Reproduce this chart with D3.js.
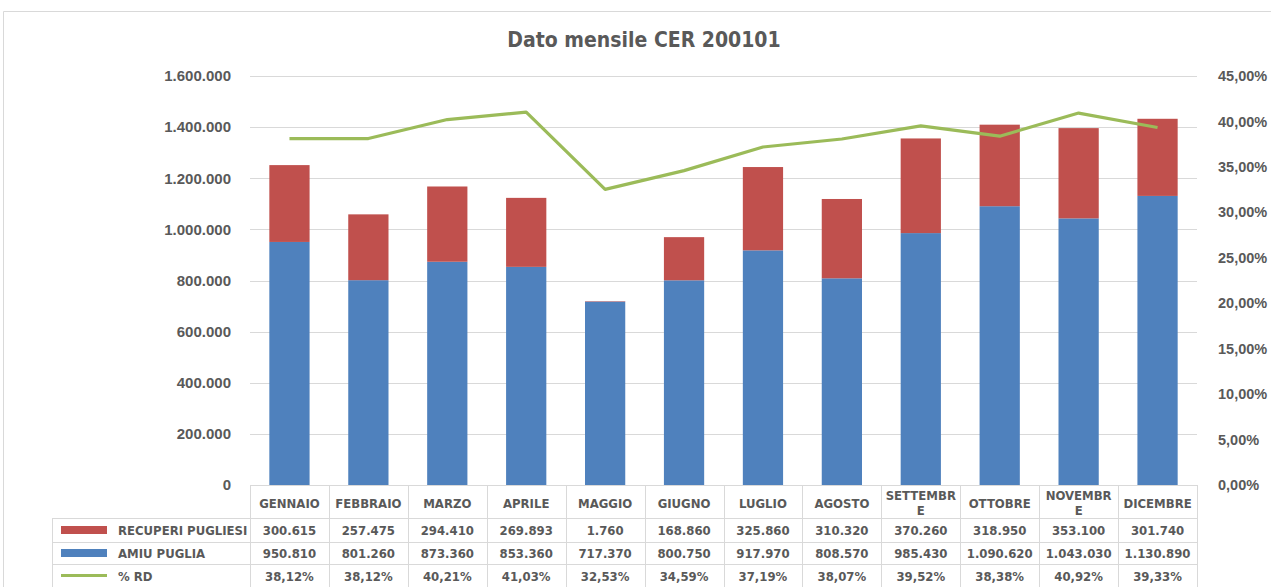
<!DOCTYPE html>
<html>
<head>
<meta charset="utf-8">
<script src="https://cdn.jsdelivr.net/npm/d3@7"></script>
<style>
  body { margin: 0; background: #fff; }
  svg { display: block; font-family: "Liberation Sans Narrow", "DejaVu Sans Condensed", "Liberation Sans", sans-serif; }
</style>
</head>
<body>
<svg id="chart" width="1271" height="587"></svg>
<script>
const months = ["GENNAIO", "FEBBRAIO", "MARZO", "APRILE", "MAGGIO", "GIUGNO", "LUGLIO",
  "AGOSTO", "SETTEMBRE", "OTTOBRE", "NOVEMBRE", "DICEMBRE"];
const recuperi = [300615, 257475, 294410, 269893, 1760, 168860, 325860, 310320, 370260, 318950, 353100, 301740];
const amiu = [950810, 801260, 873360, 853360, 717370, 800750, 917970, 808570, 985430, 1090620, 1043030, 1130890];
const rd = [38.12, 38.12, 40.21, 41.03, 32.53, 34.59, 37.19, 38.07, 39.52, 38.38, 40.92, 39.33];
const leftTicks = [0, 200000, 400000, 600000, 800000, 1000000, 1200000, 1400000, 1600000];
const rightTicks = [0, 5, 10, 15, 20, 25, 30, 35, 40, 45];

const blue = "#4f81bd", red = "#c0504d", green = "#9bbb59";
const grid = "#d9d9d9", textCol = "#595959";

const itFmt = d3.formatLocale({ decimal: ",", thousands: ".", grouping: [3], currency: ["€", ""] });
const numFmt = itFmt.format(",.0f");
const pctFmt = (v) => itFmt.format(",.2f")(v) + "%";

const plot = { left: 250, right: 1197, top: 76, bottom: 485 };

const svg = d3.select("#chart");

// outer frame
svg.append("path")
  .attr("d", `M3.5,587 V11.5 H1271`)
  .attr("fill", "none")
  .attr("stroke", grid);

const x = d3.scaleBand().domain(months).range([plot.left, plot.right]).paddingInner(0.49).paddingOuter(0.245);
const xCell = d3.scaleBand().domain(months).range([plot.left, plot.right]);
const y = d3.scaleLinear().domain([0, 1600000]).range([plot.bottom, plot.top]);
const y2 = d3.scaleLinear().domain([0, 45]).range([plot.bottom, plot.top]);

// gridlines
svg.append("g")
  .selectAll("line")
  .data(leftTicks.filter((d) => d > 0))
  .join("line")
  .attr("x1", plot.left).attr("x2", plot.right)
  .attr("y1", (d) => Math.round(y(d)) + 0.5).attr("y2", (d) => Math.round(y(d)) + 0.5)
  .attr("stroke", grid);

// left axis
const yAxis = svg.append("g")
  .attr("transform", `translate(${plot.left - 16},0)`)
  .call(d3.axisLeft(y).tickValues(leftTicks).tickFormat(numFmt).tickSize(0));
yAxis.select(".domain").remove();
yAxis.selectAll("text")
  .attr("fill", textCol).style("font-size", "15px").style("font-weight", "bold");

// right axis
const y2Axis = svg.append("g")
  .attr("transform", `translate(${plot.right + 18},0)`)
  .call(d3.axisRight(y2).tickValues(rightTicks).tickFormat(pctFmt).tickSize(0));
y2Axis.select(".domain").remove();
y2Axis.selectAll("text")
  .attr("fill", textCol).style("font-size", "14.5px").style("font-weight", "bold");

// stacked bars
const rows = months.map((m, i) => ({ month: m, amiu: amiu[i], recuperi: recuperi[i] }));
const layers = d3.stack().keys(["amiu", "recuperi"])(rows);
const colors = { amiu: blue, recuperi: red };

svg.append("g")
  .selectAll("g")
  .data(layers)
  .join("g")
  .attr("fill", (d) => colors[d.key])
  .selectAll("rect")
  .data((d) => d)
  .join("rect")
  .attr("x", (d) => x(d.data.month))
  .attr("width", x.bandwidth())
  .attr("y", (d) => y(d[1]))
  .attr("height", (d) => y(d[0]) - y(d[1]));

// line
const line = d3.line()
  .x((d, i) => xCell(months[i]) + xCell.bandwidth() / 2)
  .y((d) => y2(d));
svg.append("path")
  .datum(rd)
  .attr("d", line)
  .attr("fill", "none")
  .attr("stroke", green)
  .attr("stroke-width", 3.2)
  .attr("stroke-linejoin", "round");

// data table
const rowLines = [518, 542, 564, 587];
const tableLeft = 52;
const tbl = svg.append("g");

// axis line along bottom
tbl.append("line")
  .attr("x1", plot.left).attr("x2", plot.right)
  .attr("y1", plot.bottom + 0.5).attr("y2", plot.bottom + 0.5)
  .attr("stroke", grid);

// horizontal table lines
tbl.selectAll("line.h")
  .data(rowLines)
  .join("line")
  .attr("class", "h")
  .attr("x1", tableLeft)
  .attr("x2", plot.right)
  .attr("y1", (d) => d + 0.5).attr("y2", (d) => d + 0.5)
  .attr("stroke", grid);

// vertical table lines
const vx = months.map((m) => xCell(m)).concat([plot.right]);
tbl.selectAll("line.v")
  .data(vx)
  .join("line")
  .attr("class", "v")
  .attr("x1", (d) => Math.round(d) + 0.5).attr("x2", (d) => Math.round(d) + 0.5)
  .attr("y1", plot.bottom).attr("y2", 587)
  .attr("stroke", grid);
tbl.append("line")
  .attr("x1", tableLeft + 0.5).attr("x2", tableLeft + 0.5)
  .attr("y1", rowLines[0]).attr("y2", 587)
  .attr("stroke", grid);

// month headers
const header = tbl.selectAll("text.month")
  .data(months)
  .join("text")
  .attr("class", "month")
  .attr("text-anchor", "middle")
  .attr("fill", textCol)
  .style("font-size", "13px")
  .style("font-weight", "bold");
header.each(function (m) {
  const cx = xCell(m) + xCell.bandwidth() / 2;
  const t = d3.select(this);
  if (m === "SETTEMBRE" || m === "NOVEMBRE") {
    t.append("tspan").attr("x", cx).attr("y", 500).text(m.slice(0, -1));
    t.append("tspan").attr("x", cx).attr("y", 515).text("E");
  } else {
    t.attr("x", cx).attr("y", 508).text(m);
  }
});

// series rows
const series = [
  { name: "RECUPERI PUGLIESI", color: red, values: recuperi.map(numFmt), swatch: "rect" },
  { name: "AMIU PUGLIA", color: blue, values: amiu.map(numFmt), swatch: "rect" },
  { name: "% RD", color: green, values: rd.map(pctFmt), swatch: "line" }
];

series.forEach((s, r) => {
  const cy = (rowLines[r] + rowLines[r + 1]) / 2;
  if (s.swatch === "rect") {
    tbl.append("rect")
      .attr("x", 61).attr("y", cy - 4).attr("width", 46).attr("height", 8)
      .attr("fill", s.color);
  } else {
    tbl.append("line")
      .attr("x1", 61).attr("x2", 107).attr("y1", cy).attr("y2", cy)
      .attr("stroke", s.color).attr("stroke-width", 3);
  }
  tbl.append("text")
    .attr("x", 118).attr("y", cy + 5)
    .attr("fill", textCol)
    .style("font-size", "13px").style("font-weight", "bold")
    .text(s.name);
  tbl.selectAll(null)
    .data(s.values)
    .join("text")
    .attr("x", (d, i) => xCell(months[i]) + xCell.bandwidth() / 2)
    .attr("y", cy + 5)
    .attr("text-anchor", "middle")
    .attr("fill", textCol)
    .style("font-size", "13px").style("font-weight", "bold")
    .text((d) => d);
});

// title
svg.append("text")
  .attr("x", 644).attr("y", 47)
  .attr("text-anchor", "middle")
  .attr("fill", textCol)
  .style("font-size", "21px")
  .style("font-weight", "bold")
  .text("Dato mensile CER 200101");
</script>
</body>
</html>
